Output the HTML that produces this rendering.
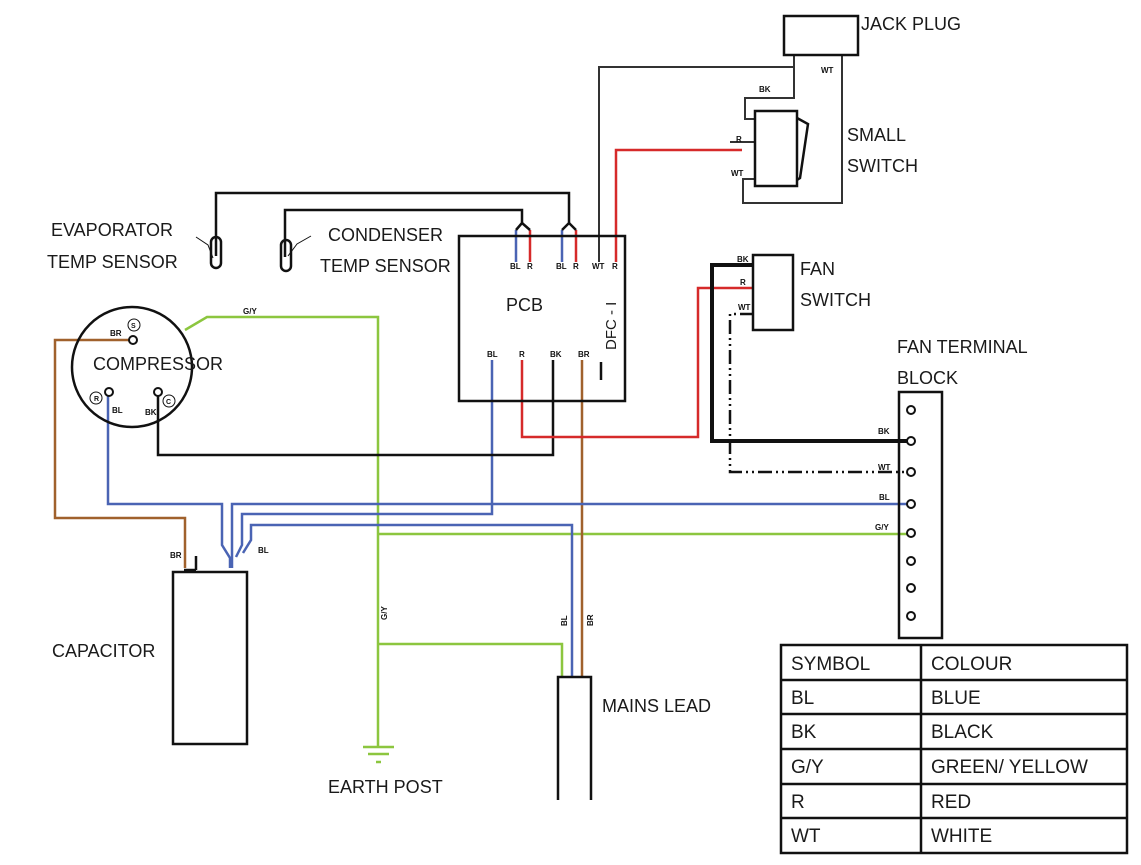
<!DOCTYPE html>
<html><head><style>body{margin:0;background:#fff}svg{display:block}</style></head><body>
<svg width="1141" height="865" viewBox="0 0 1141 865" xmlns="http://www.w3.org/2000/svg" font-family="Liberation Sans, sans-serif">
<g fill="none" stroke-width="2.5">
<polyline stroke="#8cc63f" points="185,330 207,317 378,317 378,746"/>
<polyline stroke="#8cc63f" points="378,534 910,534"/>
<polyline stroke="#8cc63f" points="378,644 562,644 562,677"/>
<line x1="363" y1="747" x2="394" y2="747" stroke="#8cc63f"/>
<line x1="368" y1="754" x2="389" y2="754" stroke="#8cc63f"/>
<line x1="376" y1="762" x2="381" y2="762" stroke="#8cc63f"/>
<polyline stroke="#a0612c" points="130,340 55,340 55,518 185,518 185,568"/>
<polyline stroke="#a0612c" points="582,360 582,677"/>
<polyline stroke="#4a64b4" points="108,392 108,504 222,504 222,545 230,558 230,568"/>
<polyline stroke="#4a64b4" points="910,504 232,504 232,568"/>
<polyline stroke="#4a64b4" points="492,360 492,514 242,514 242,545 236,557"/>
<polyline stroke="#4a64b4" points="572,677 572,525 251,525 251,540 243,553"/>
<polyline stroke="#111" points="158,392 158,455 553,455 553,360"/>
<polyline stroke="#d62a2a" points="522,360 522,437 698,437 698,288 754,288"/>
<polyline stroke="#d62a2a" points="616,262 616,150 742,150"/>
<line x1="516" y1="230" x2="516" y2="262" stroke="#4a64b4"/>
<line x1="530" y1="230" x2="530" y2="262" stroke="#d62a2a"/>
<line x1="562" y1="230" x2="562" y2="262" stroke="#4a64b4"/>
<line x1="576" y1="230" x2="576" y2="262" stroke="#d62a2a"/>
<polyline stroke="#111" points="216,256 216,193 569,193 569,223 562,230"/><line x1="569" y1="223" x2="576" y2="230" stroke="#111"/>
<polyline stroke="#111" points="285,257 285,210 522,210 522,223 516,230"/><line x1="522" y1="223" x2="530" y2="230" stroke="#111"/>
<polyline stroke="#333" stroke-width="2" points="599,262 599,67 794,67"/>
<polyline stroke="#333" stroke-width="2" points="794,55 794,98 745,98 745,119 755,119"/>
<polyline stroke="#333" stroke-width="2" points="842,55 842,203 743,203 743,179 755,179"/>
<line x1="730" y1="142" x2="755" y2="142" stroke="#333" stroke-width="2"/>
<polyline stroke="#111" stroke-width="4" points="754,265 712,265 712,441 910,441"/>
<polyline stroke="#111" stroke-width="2.5" stroke-dasharray="14,4,2,4,2,4" points="754,314 730,314 730,472 910,472"/>
<g stroke="#111" stroke-width="2.5">
<rect x="459" y="236" width="166" height="165"/>
<circle cx="132" cy="367" r="60"/>
<rect x="173" y="572" width="74" height="172"/>
<polyline points="558,800 558,677 591,677 591,800"/>
<rect x="784" y="16" width="74" height="39"/>
<rect x="755" y="111" width="42" height="75"/>
<polyline points="797,118 808,124 800,178 797,180"/>
<rect x="753" y="255" width="40" height="75"/>
<rect x="899" y="392" width="43" height="246"/>
<rect x="211" y="237" width="10" height="31" rx="5"/>
<rect x="281" y="240" width="10" height="31" rx="5"/>
<line x1="601" y1="362" x2="601" y2="380"/>
<line x1="196" y1="556" x2="196" y2="570"/>
<line x1="184" y1="570" x2="196" y2="570"/>
</g>
<polyline stroke="#111" stroke-width="1" points="196,237 208,245 213,258"/>
<polyline stroke="#111" stroke-width="1" points="311,236 297,244 288,256"/>
<g stroke="#111" stroke-width="2" fill="#fff">
<circle cx="133" cy="340" r="4"/><circle cx="109" cy="392" r="4"/><circle cx="158" cy="392" r="4"/>
<circle cx="911" cy="410" r="4"/><circle cx="911" cy="441" r="4"/><circle cx="911" cy="472" r="4"/><circle cx="911" cy="504" r="4"/><circle cx="911" cy="533" r="4"/><circle cx="911" cy="561" r="4"/><circle cx="911" cy="588" r="4"/><circle cx="911" cy="616" r="4"/>
</g>
<g stroke="#111" stroke-width="1"><circle cx="134" cy="325" r="6"/><circle cx="96" cy="398" r="6"/><circle cx="169" cy="401" r="6"/></g>
<g stroke="#111" stroke-width="2.5">
<rect x="781" y="645" width="346" height="208"/>
<line x1="921" y1="645" x2="921" y2="853"/>
<line x1="781" y1="680" x2="1127" y2="680"/><line x1="781" y1="714" x2="1127" y2="714"/><line x1="781" y1="749" x2="1127" y2="749"/><line x1="781" y1="784" x2="1127" y2="784"/><line x1="781" y1="818" x2="1127" y2="818"/>
</g>
</g>
<g fill="#1a1a1a" font-size="18">
<text x="861" y="30">JACK PLUG</text>
<text x="847" y="141">SMALL</text><text x="847" y="172">SWITCH</text>
<text x="51" y="236">EVAPORATOR</text><text x="47" y="268">TEMP SENSOR</text>
<text x="328" y="241">CONDENSER</text><text x="320" y="272">TEMP SENSOR</text>
<text x="506" y="311">PCB</text>
<text x="93" y="370">COMPRESSOR</text>
<text x="800" y="275">FAN</text><text x="800" y="306">SWITCH</text>
<text x="897" y="353">FAN TERMINAL</text><text x="897" y="384">BLOCK</text>
<text x="52" y="657">CAPACITOR</text>
<text x="602" y="712">MAINS LEAD</text>
<text x="328" y="793">EARTH POST</text>
<g font-size="19">
<text x="791" y="670">SYMBOL</text><text x="931" y="670">COLOUR</text>
<text x="791" y="704">BL</text><text x="931" y="704">BLUE</text>
<text x="791" y="738">BK</text><text x="931" y="738">BLACK</text>
<text x="791" y="773">G/Y</text><text x="931" y="773">GREEN/ YELLOW</text>
<text x="791" y="808">R</text><text x="931" y="808">RED</text>
<text x="791" y="842">WT</text><text x="931" y="842">WHITE</text>
</g>
<text transform="translate(616,350) rotate(-90)" font-size="15">DFC - I</text>
</g>
<g fill="#111" font-size="8" font-weight="bold">
<text x="510" y="269">BL</text><text x="527" y="269">R</text><text x="556" y="269">BL</text><text x="573" y="269">R</text><text x="592" y="269">WT</text><text x="612" y="269">R</text>
<text x="487" y="357">BL</text><text x="519" y="357">R</text><text x="550" y="357">BK</text><text x="578" y="357">BR</text>
<text x="110" y="336">BR</text><text x="112" y="413">BL</text><text x="145" y="415">BK</text>
<text x="131" y="328" font-size="7">S</text><text x="94" y="401" font-size="7">R</text><text x="166" y="404" font-size="7">C</text>
<text x="243" y="314">G/Y</text>
<text x="170" y="558">BR</text><text x="258" y="553">BL</text>
<text x="759" y="92">BK</text><text x="821" y="73">WT</text><text x="736" y="142">R</text><text x="731" y="176">WT</text>
<text x="737" y="262">BK</text><text x="740" y="285">R</text><text x="738" y="310">WT</text>
<text x="878" y="434">BK</text><text x="878" y="470">WT</text><text x="879" y="500">BL</text><text x="875" y="530">G/Y</text>
<text transform="translate(387,620) rotate(-90)">G/Y</text>
<text transform="translate(567,626) rotate(-90)">BL</text>
<text transform="translate(593,626) rotate(-90)">BR</text>
</g>
</svg>
</body></html>
